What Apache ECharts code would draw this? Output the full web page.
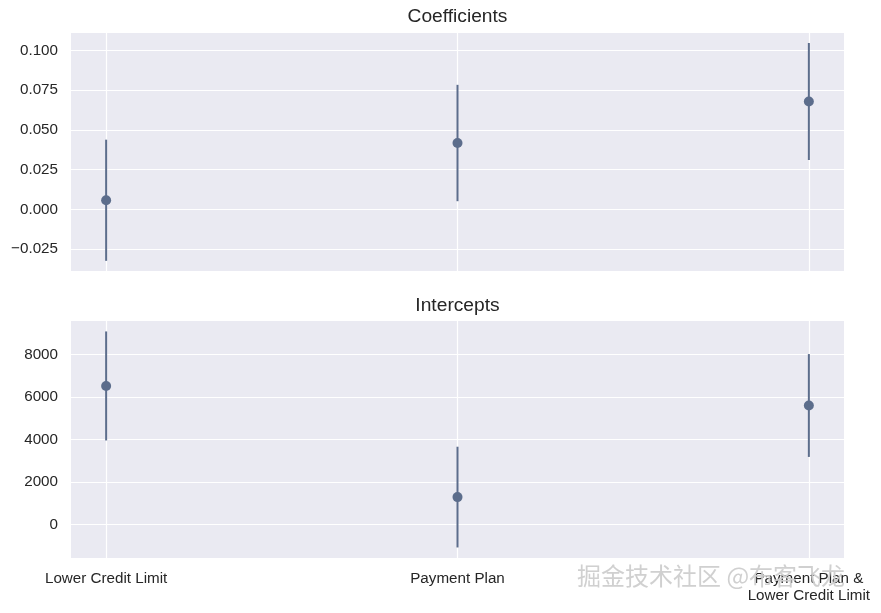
<!DOCTYPE html>
<html>
<head>
<meta charset="utf-8">
<script src="https://cdn.jsdelivr.net/npm/echarts@6/dist/echarts.min.js"></script>
<style>
html,body{margin:0;padding:0;background:#fff;}
#chart{width:881px;height:613px;}
</style>
</head>
<body>
<div id="chart"></div>
<script>
// ---- data ----
var categories = ['Lower Credit Limit', 'Payment Plan', 'Payment Plan &\nLower Credit Limit'];
var categoryPositions = [0, 1, 2];
var coefMean = [0.0058, 0.0418, 0.0679];
var coefErr = [0.0381, 0.0366, 0.0368];
var interceptMean = [6520, 1290, 5600];
var interceptErr = [2565, 2370, 2420];
var coefTicks = [-0.025, 0, 0.025, 0.05, 0.075, 0.1];
var interceptTicks = [0, 2000, 4000, 6000, 8000];
var titles = ['Coefficients', 'Intercepts'];

var COLOR = '#5c6d8c';
var FONT = '"Liberation Sans", Arial, Helvetica, sans-serif';
var TXT = '#262626';

function errData(mean, err) {
  return categoryPositions.map(function (x, i) { return [x, mean[i] - err[i], mean[i] + err[i]]; });
}
function ptData(mean) {
  return categoryPositions.map(function (x, i) { return [x, mean[i]]; });
}
function renderErr(params, api) {
  var x = api.value(0);
  var p1 = api.coord([x, api.value(1)]);
  var p2 = api.coord([x, api.value(2)]);
  return { type: 'line', shape: { x1: p1[0], y1: p1[1], x2: p2[0], y2: p2[1] },
           style: { stroke: COLOR, lineWidth: 2 } };
}
function xAxisCfg(idx, showLabels) {
  return {
    type: 'value', gridIndex: idx, min: -0.1, max: 2.1,
    axisLine: { show: false },
    axisTick: { show: false, customValues: categoryPositions },
    splitLine: { show: true, lineStyle: { color: '#ffffff', width: 1.2 } },
    axisLabel: {
      show: showLabels, customValues: categoryPositions, margin: 12,
      fontFamily: FONT, fontSize: 15.2, color: TXT, lineHeight: 17,
      formatter: function (v) { return categories[Math.round(v)]; }
    }
  };
}
function yAxisCfg(idx, min, max, ticks, fmt) {
  return {
    type: 'value', gridIndex: idx, min: min, max: max,
    axisLine: { show: false },
    axisTick: { show: false, customValues: ticks },
    splitLine: { show: true, lineStyle: { color: '#ffffff', width: 1.2 } },
    axisLabel: {
      customValues: ticks, margin: 13,
      fontFamily: FONT, fontSize: 15.2, color: TXT,
      formatter: fmt
    }
  };
}

var chart = echarts.init(document.getElementById('chart'), null, { renderer: 'canvas' });
chart.setOption({
  backgroundColor: '#ffffff',
  animation: false,
  grid: [
    { left: 71, top: 33, width: 773, height: 238, show: true, backgroundColor: '#eaeaf2', borderWidth: 0 },
    { left: 71, top: 321, width: 773, height: 237, show: true, backgroundColor: '#eaeaf2', borderWidth: 0 }
  ],
  xAxis: [xAxisCfg(0, false), xAxisCfg(1, true)],
  yAxis: [
    yAxisCfg(0, -0.0387, 0.1110, coefTicks, function (v) {
      var s = Math.abs(v).toFixed(3); return (v < -1e-9 ? '\u2212' : '') + s;
    }),
    yAxisCfg(1, -1576, 9576, interceptTicks, function (v) { return String(Math.round(v)); })
  ],
  series: [
    { type: 'custom', xAxisIndex: 0, yAxisIndex: 0, renderItem: renderErr, data: errData(coefMean, coefErr), z: 2 },
    { type: 'scatter', xAxisIndex: 0, yAxisIndex: 0, data: ptData(coefMean), symbolSize: 10,
      itemStyle: { color: COLOR, opacity: 1 }, z: 3 },
    { type: 'custom', xAxisIndex: 1, yAxisIndex: 1, renderItem: renderErr, data: errData(interceptMean, interceptErr), z: 2 },
    { type: 'scatter', xAxisIndex: 1, yAxisIndex: 1, data: ptData(interceptMean), symbolSize: 10,
      itemStyle: { color: COLOR, opacity: 1 }, z: 3 }
  ],
  graphic: [
    { type: 'text', x: 457.5, y: 17, z: 50,
      style: { text: titles[0], fontFamily: FONT, fontSize: 19.2, fill: TXT,
               textAlign: 'center', textVerticalAlign: 'middle' } },
    { type: 'text', x: 457.5, y: 306, z: 50,
      style: { text: titles[1], fontFamily: FONT, fontSize: 19.2, fill: TXT,
               textAlign: 'center', textVerticalAlign: 'middle' } },
    { type: 'text', x: 577, y: 576, z: 100,
      style: { text: '掘金技术社区 @布客飞龙', fontFamily: '"Noto Sans CJK SC", sans-serif',
               fontSize: 24, fill: 'rgba(205,205,205,0.95)', textVerticalAlign: 'middle',
               letterSpacing: 1.5,
               shadowColor: 'rgba(50,50,50,0.85)', shadowBlur: 1, shadowOffsetX: 1, shadowOffsetY: 1 } }
  ]
});
</script>
</body>
</html>
